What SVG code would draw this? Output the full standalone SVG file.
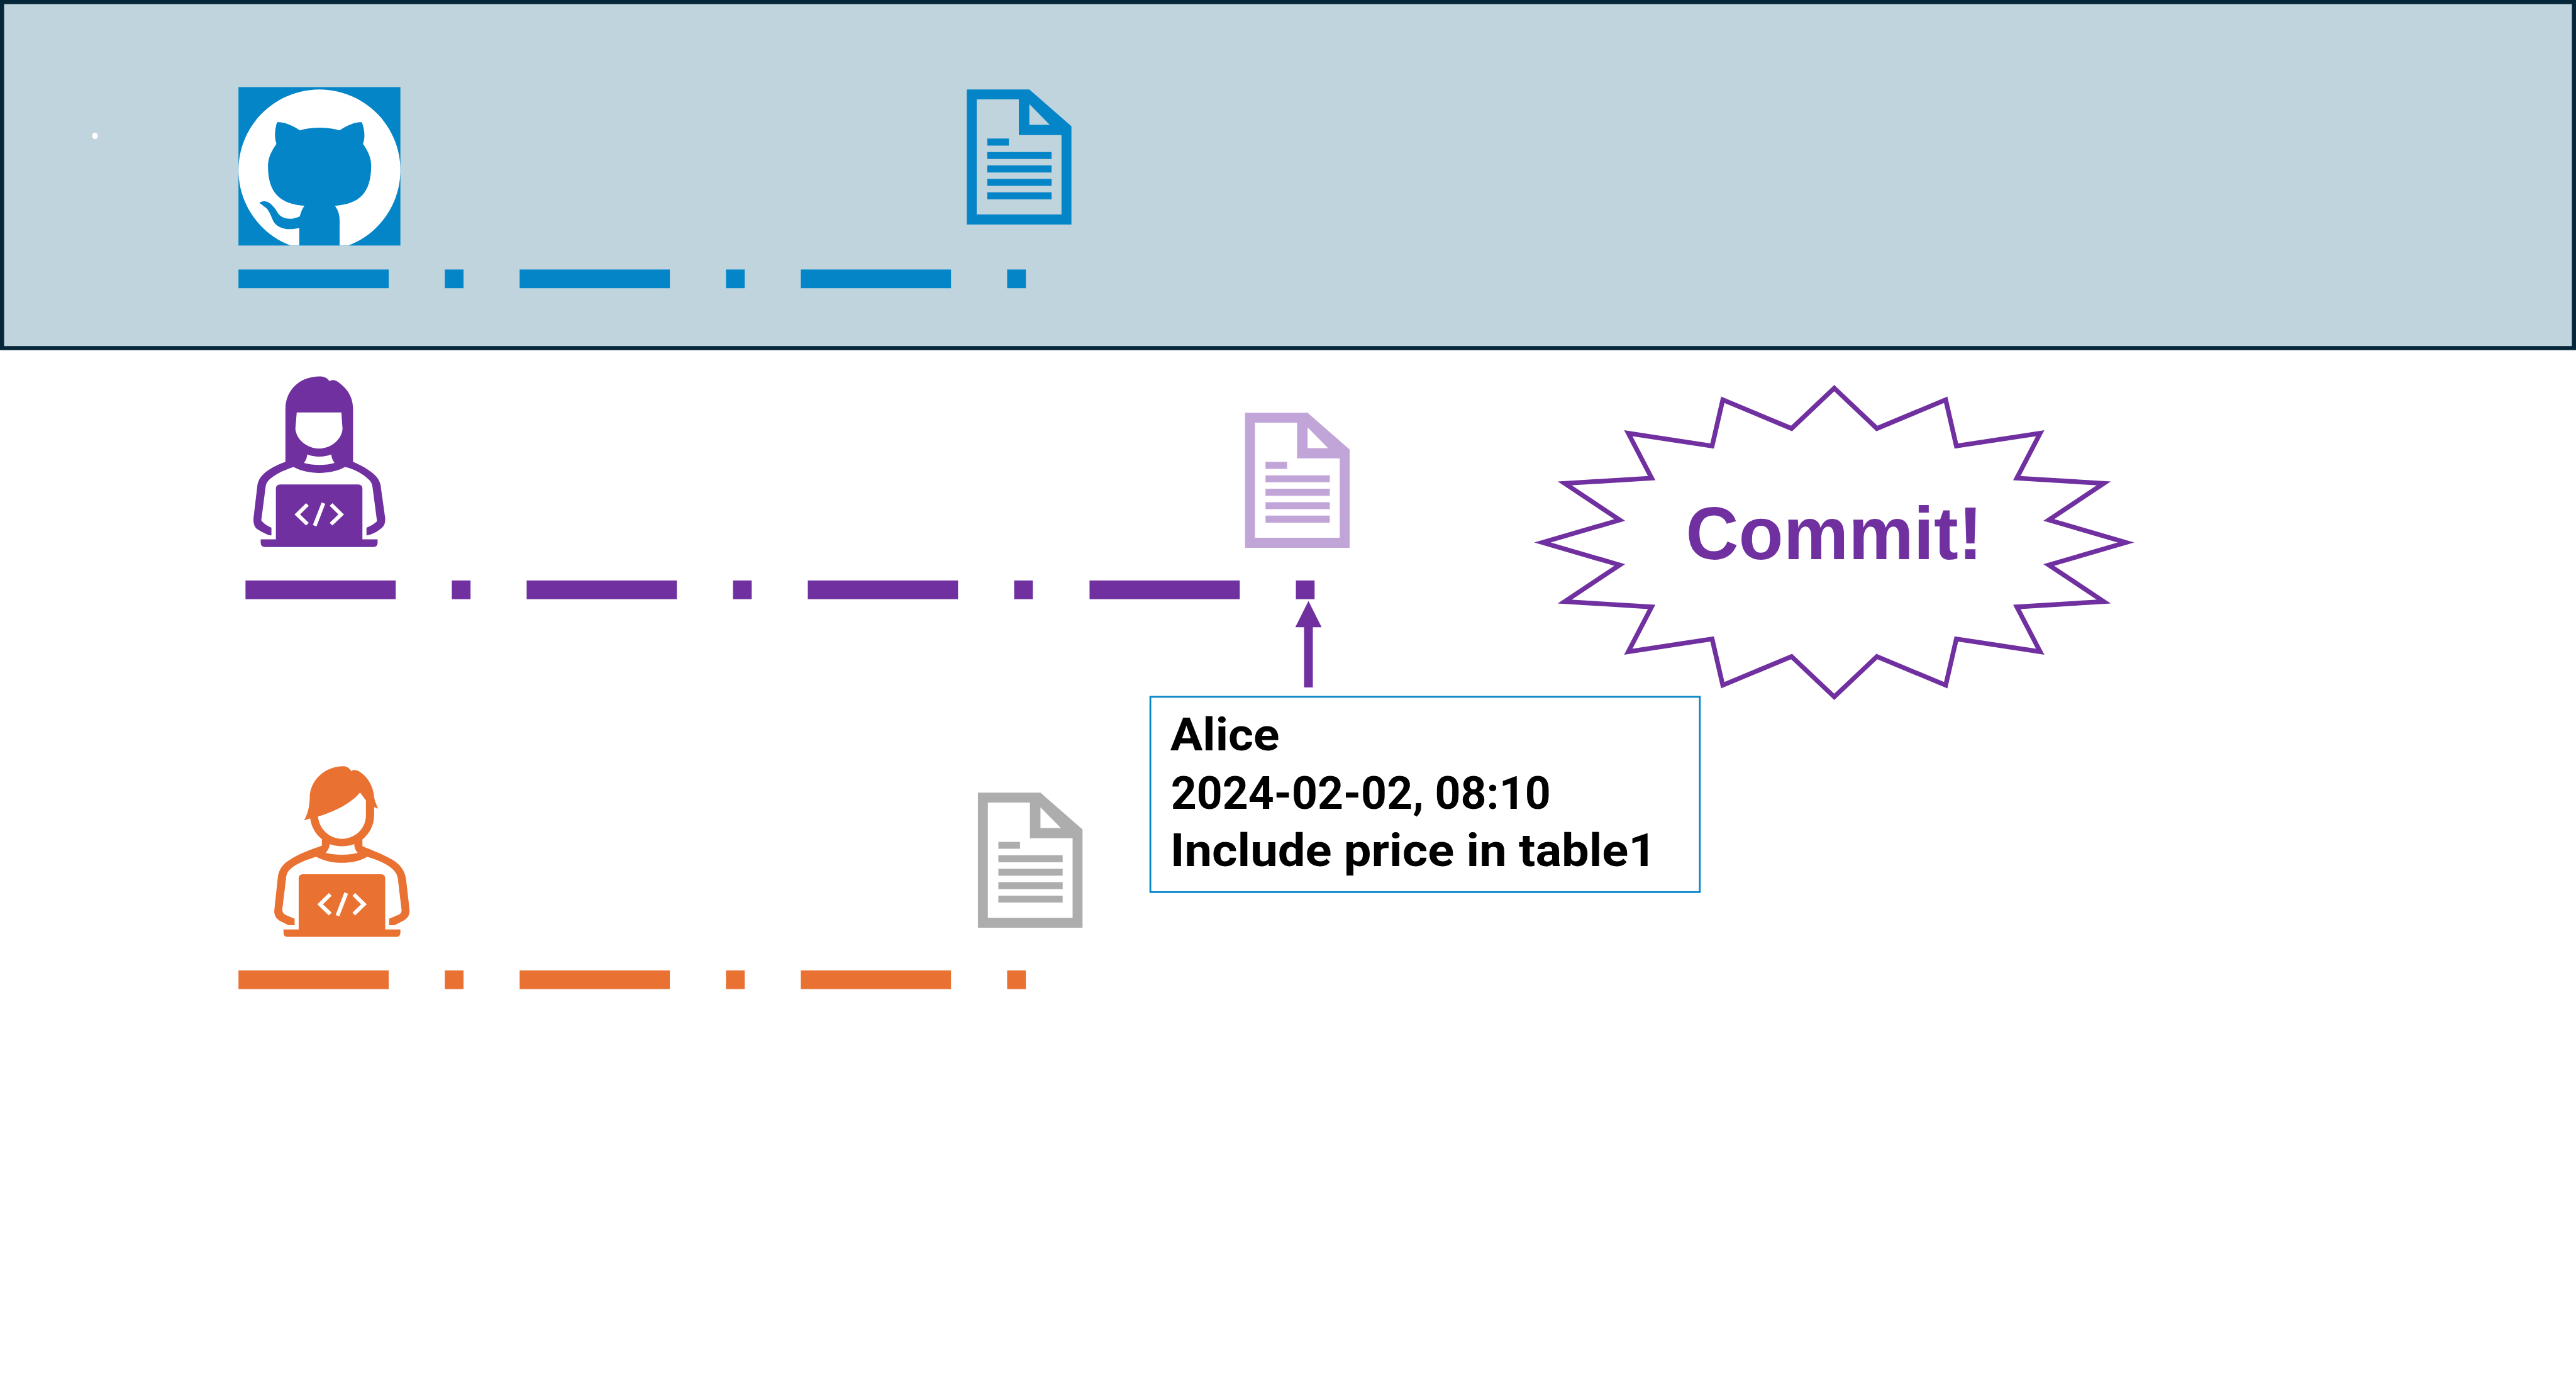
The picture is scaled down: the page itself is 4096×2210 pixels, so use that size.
<svg xmlns="http://www.w3.org/2000/svg" xmlns:xlink="http://www.w3.org/1999/xlink" width="4096" height="2210" viewBox="0 0 4096 2210">
<style>
.blue{fill:#0485C8}.purple{fill:#7030A0}.orange{fill:#E97132}.lilac{fill:#C2A5D8}.gray{fill:#ADADAD}
.code{fill:none;stroke:#fff;stroke-width:20}
.note{font-family:"Roboto","Noto Sans",sans-serif;font-weight:700;font-size:78px;fill:#000}
.commit{font-family:"Liberation Sans",Arial,sans-serif;font-weight:700;font-size:128px;fill:#7030A0}
</style>
<defs>
<g id="doc">
<path fill-rule="evenodd" d="M0 0H107L179 63V231H0Z M17 17V214H162V78H89V17Z M107 25V60.5H142Z"/>
<path d="M35 84h37v12h-37z M35 107h110v12H35z M35 130h110v12H35z M35 153h110v12H35z M35 176h110v12H35z"/>
</g>
<g id="dashes">
<rect x="0" y="0" width="257" height="32"/><rect x="353" y="0" width="32" height="32"/>
<rect x="481" y="0" width="257" height="32"/><rect x="834" y="0" width="32" height="32"/>
<rect x="962" y="0" width="257" height="32"/><rect x="1315" y="0" width="32" height="32"/>
</g>
</defs>
<rect width="4096" height="2210" fill="#fff"/>
<g transform="scale(0.92943)">
<g id="repo-band">
<rect x="3.500" y="3.500" width="4400" height="592" fill="#C0D4DE" stroke="#06263A" stroke-width="7"/>
<ellipse cx="162.500" cy="232.500" rx="5" ry="5.500" fill="#fff"/>
</g>
<g id="github-icon">
<rect x="408" y="149" width="277" height="271" class="blue"/>
<path fill="#fff" d="M497 420A138.500 138 0 1 1 596 420Z"/>
<path class="blue" d="M474 209C485 208 500 214 513 223C535 217 558 217 581 223C594 214 609 208 619 209C624 222 625 235 621 246C631 260 635 272 635 283C635 330 615 349 573 352C579 360 581 368 581 377V420H512V390C490 395 473 390 467 377C462 365 459 358 453 354C447 349 442 347 445 346C453 342 463 344 474 362C480 374 495 378 513 370C515 362 517 357 521 352C479 349 458 330 458.500 283C458.500 272 463 260 473 246C469 235 470 222 474 209Z"/>
</g>
<g id="repo-line" class="blue"><use xlink:href="#dashes" href="#dashes" x="408" y="461"/></g>
<g id="repo-doc" class="blue"><use xlink:href="#doc" href="#doc" x="1654" y="153"/></g>
<g id="alice" class="purple" transform="translate(400 620) scale(.33333)">
<path fill-rule="evenodd" d="M265 510V240C265 140 340 72 440 72C465 72 480 80 492 97C500 88 515 88 530 97C580 130 612 175 612 240V510C660 530 710 560 735 590C750 610 755 630 756 650L777 800C778 830 770 845 745 860C725 875 700 885 681 888V848C700 840 720 830 735 815L712 640C710 620 700 605 680 590C650 565 610 545 570 537C530 560 480 567 438 567C390 567 345 558 307 537C265 550 220 570 190 595C170 610 165 625 163 640L141 810C155 830 175 840 193 848V888C170 885 145 870 120 855C105 845 100 825 101 800L120 640C122 610 135 590 150 575C180 545 225 525 265 510Z M323 257H552L558 340C555 395 500 442 438 442C375 442 320 395 316 340Z M377 472C410 487 465 487 500 472C502 490 508 503 517 516C470 530 410 530 360 516C370 503 375 490 377 472Z"/>
<path d="M216 908V648Q216 626 238 626H638Q660 626 660 648V908Z M138 908H738V925Q738 947 716 947H160Q138 947 138 925Z"/>
<path class="code" d="M378 729L326 780L378 830 M460 722L415 838 M499 729L551 780L499 830"/>
</g>
<g id="alice-line" class="purple">
<use xlink:href="#dashes" href="#dashes" x="420" y="993"/>
<rect x="1864" y="993" width="257" height="32"/><rect x="2217" y="993" width="32" height="32"/>
</g>
<g id="alice-doc" class="lilac"><use xlink:href="#doc" href="#doc" x="2130" y="706"/></g>
<g id="commit-burst">
<polygon transform="translate(3138 928)" fill="#fff" stroke="#7030A0" stroke-width="8" points="0,-264 73,-195 190.700,-244.200 208.900,-165 352.300,-186.800 312.400,-110.200 461.100,-101 367.100,-38.500 499,0 367.100,38.500 461.100,101 312.400,110.200 352.300,186.800 208.900,165 190.700,244.200 73,195 0,264 -73,195 -190.700,244.200 -208.900,165 -352.300,186.800 -312.400,110.200 -461.100,101 -367.100,38.500 -499,0 -367.100,-38.500 -461.100,-101 -312.400,-110.200 -352.300,-186.800 -208.900,-165 -190.700,-244.200 -73,-195"/>
<text class="commit" x="2884" y="957" textLength="508" lengthAdjust="spacingAndGlyphs">Commit!</text>
</g>
<g id="commit-note">
<rect x="1968" y="1192" width="940" height="334" fill="#fff" stroke="#0485C8" stroke-width="3"/>
<text class="note" x="2002" y="1284" textLength="187" lengthAdjust="spacingAndGlyphs">Alice</text>
<text class="note" x="2003" y="1384" textLength="650" lengthAdjust="spacingAndGlyphs">2024-02-02, 08:10</text>
<text class="note" x="2002" y="1482" textLength="832" lengthAdjust="spacingAndGlyphs">Include price in table1</text>
</g>
<g id="connectors">
<path class="purple" d="M2231 1176V1073H2216L2238.500 1028L2261 1073H2246V1176Z"/>
</g>
<g id="bob" class="orange" transform="translate(440 1290) scale(.33333)">
<path fill-rule="evenodd" d="M240 340C262 305 270 260 270 210C280 120 360 62 440 62C460 62 472 70 483 88C490 78 510 80 525 90C570 120 595 165 600 220C605 245 612 262 621 280L600 272V320C598 370 575 410 540 438V472C580 490 640 510 690 540C735 565 760 600 765 650L782 800C783 830 770 845 745 858L705 878H677V845L730 822C738 817 742 810 741 800L722 640C718 610 700 590 665 568C635 550 600 537 565 527C525 550 480 558 436 558C390 558 345 550 303 527C260 540 220 555 190 575C160 595 150 610 148 640L129 795C128 810 135 820 145 825L192 845V878H160L120 858C95 845 86 825 88 800L105 640C108 600 125 570 160 547C215 510 275 490 332 470V436C300 410 278 375 272 330Z M312 320C390 298 480 255 528 197L558 238V320C555 390 495 435 436 435C370 435 318 385 312 320Z M372 462C405 477 465 477 498 462C498 480 505 495 516 507C470 520 400 520 352 507C362 495 372 480 372 462Z"/>
<path d="M213 900V639Q213 617 235 617H635Q657 617 657 639V900Z M135 900H735V916Q735 938 713 938H157Q135 938 135 916Z"/>
<path class="code" d="M375 720L323 771L375 821 M457 713L412 829 M496 720L548 771L496 821"/>
</g>
<g id="bob-line" class="orange"><use xlink:href="#dashes" href="#dashes" x="408" y="1660"/></g>
<g id="bob-doc" class="gray"><use xlink:href="#doc" href="#doc" x="1673" y="1356"/></g>
</g>
</svg>
